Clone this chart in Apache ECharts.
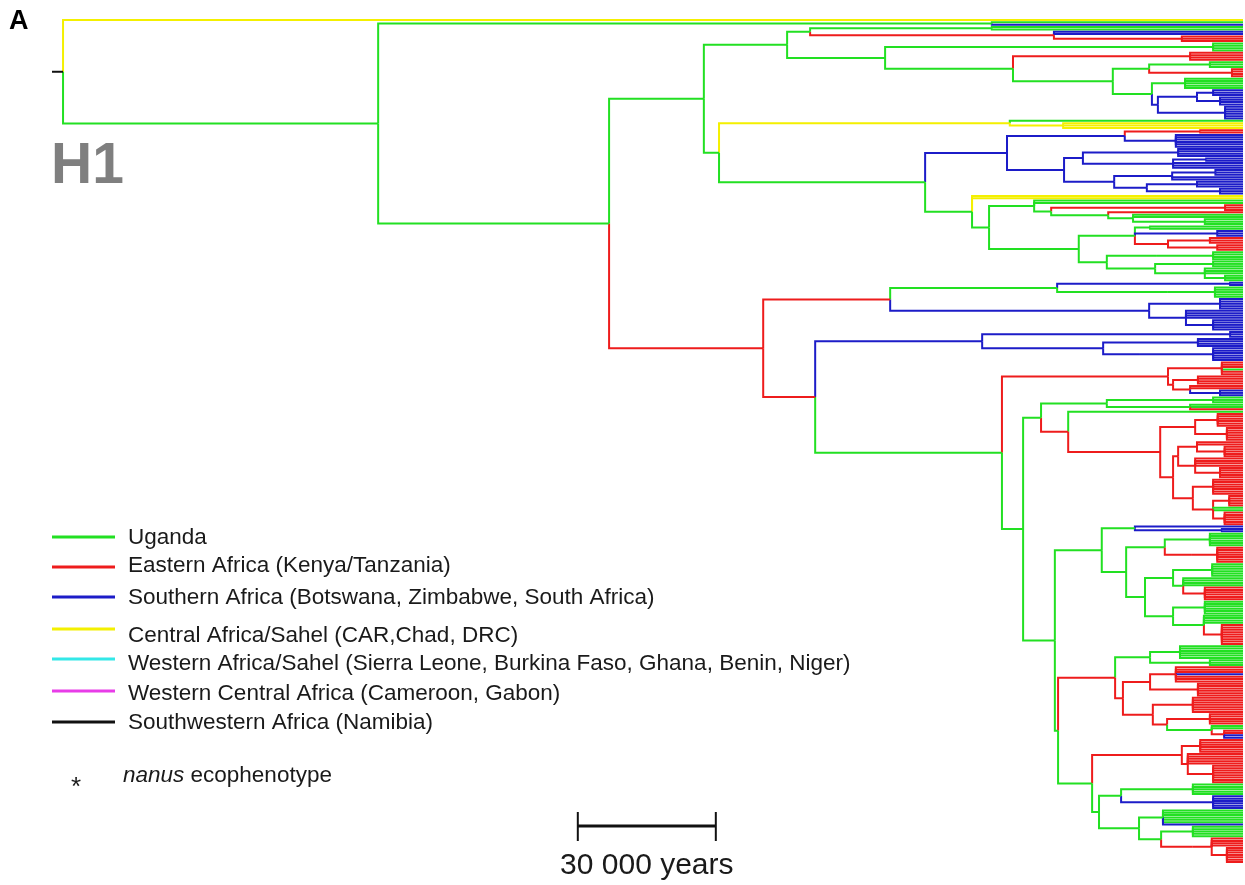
<!DOCTYPE html>
<html><head><meta charset="utf-8">
<script src="https://cdn.jsdelivr.net/npm/echarts@6.0.0/dist/echarts.min.js"></script>
<style>html,body{margin:0;padding:0;background:#fff}#c{width:1245px;height:885px}</style>
</head><body><div id="c"></div>
<script>
// ---------- region legend ----------
const regionCodes = ['g', 'r', 'b', 'y', 'c', 'm', 'k'];
const regionNames = [
  'Uganda',
  'Eastern Africa (Kenya/Tanzania)',
  'Southern Africa (Botswana, Zimbabwe, South Africa)',
  'Central Africa/Sahel (CAR,Chad, DRC)',
  'Western Africa/Sahel (Sierra Leone, Burkina Faso, Ghana, Benin, Niger)',
  'Western Central Africa (Cameroon, Gabon)',
  'Southwestern Africa (Namibia)'
];
const regionColors = ['#22e022', '#ee1c1c', '#1c1cc8', '#f4f000', '#33e8e8', '#e83ce8', '#111111'];

// ---------- time scale (kyr before present) ----------
const rootAge = 256.5;
const rootStubKyr = 2.4;
const scaleBarKyr = 30;
const scaleBarStartAge = 144.6;
const scaleBarLabel = '30 000 years';

// ---------- tree: [node age (kyr), colour of branch into node, ...children]; 'g4' = 4 tips of that colour ----------
const outgroupTip = 'y1';
const cladeB1 = [54.6, 'g', 'g1', 'b1'];
const clade810 = [94.1, 'g', [54.6, 'g', 'g2'], [41.1, 'r', 'b2', [13.3, 'r', 'r3']]];
const clade885 = [77.8, 'g', [6.5, 'g', 'g4'],
  [50.0, 'g', [11.5, 'r', 'r4'],
    [28.3, 'g',
      [20.4, 'g', [7.2, 'g', 'g3'], [2.4, 'r', 'r4']],
      [19.8, 'g', [12.6, 'g', 'g5'], [18.5, 'b', [10.0, 'b', [6.5, 'b', 'b3'], [5.0, 'b', 'b4']], [3.9, 'b', 'b6']]]]]];
const cladeD1 = [99.1, 'g', clade810, clade885];
const clade1007 = [51.3, 'b',
  [25.7, 'b', [9.3, 'r', 'r2'], [14.6, 'b', 'b6']],
  [38.9, 'b',
    [34.8, 'b', [14.1, 'b', 'b4'], [15.2, 'b', [8.0, 'b', 'b2'], 'b3']],
    [28.0, 'b', [15.4, 'b', [6.0, 'b', 'b3'], 'b2'], [20.9, 'b', [10.0, 'b', 'b3'], [5.0, 'b', 'b3']]]]];
const clade989 = [55.2, 'g',
  [45.4, 'g', 'g2', [41.7, 'g', [3.9, 'r', 'r3'], [29.3, 'g', 'r1', [23.9, 'g', 'g2', [8.3, 'g', 'g3']]]]],
  [35.7, 'g',
    [23.5, 'g', [20.2, 'g', 'g2'], [5.6, 'b', 'b3'], [16.3, 'r', [7.2, 'r', 'r3'], [5.6, 'r', 'r3']]],
    [29.6, 'g', [18.9, 'g', [6.5, 'g', 'g4']], [19.1, 'g', [6.5, 'g', 'g3'], [8.3, 'g', 'g3', [3.9, 'g', 'g3']]]]]];
const clade719 = [113.9, 'g',
  [50.7, 'y', 'g1', [39.1, 'y', 'y3']],
  [69.1, 'g', clade1007, [58.9, 'g', 'y2', clade989]]];
const cladeF = [76.7, 'r',
  [40.4, 'g', [2.8, 'b', 'b2'], [16.5, 'g', [6.1, 'g', 'g5']]],
  [20.4, 'b', [5.0, 'b', 'b5'], [12.4, 'b', 'b4', [6.5, 'b', 'b5']]]];
const clade982 = [56.7, 'b', [2.8, 'b', 'b3'], [30.4, 'b', [9.8, 'b', 'b4'], [22.6, 'b', [6.5, 'b', 'b6']]]];
const clade1168 = [16.3, 'r', [4.6, 'r', 'r3', 'g1', 'r2'], [15.2, 'r', [9.8, 'r', 'r4'], [11.5, 'r', 'r2', [5.0, 'b', 'b3']]]];
const clade1042 = [43.9, 'g',
  [29.6, 'g', [6.5, 'g', 'g3'], [11.5, 'g', 'g2', 'r1']],
  [38.0, 'r', 'g1',
    [18.0, 'r',
      [10.4, 'r', [5.5, 'r', 'r6'], [3.5, 'r', 'r6']],
      [15.2, 'r',
        [14.1, 'r', [10.0, 'r', 'r2', [4.0, 'r', 'r5']], [10.4, 'r', 'r4', [5.0, 'r', 'r5']]],
        [10.9, 'r', [6.5, 'r', 'r7'], [6.5, 'r', [3.0, 'r', 'r5'], 'g2', [4.0, 'r', 'r6']]]]]]];
const cladeM = [25.4, 'g',
  [17.0, 'g', [7.2, 'g', 'g6'], [11.1, 'r', [5.6, 'r', 'r7']]],
  [21.3, 'g',
    [15.2, 'g', [6.7, 'g', 'g6'], [13.0, 'g', 'g4', [8.3, 'r', 'r6']]],
    [15.2, 'g', [8.3, 'g', 'g6'], [8.5, 'g', 'g4', [4.6, 'r', 'r9']]]]];
const cladeL = [30.7, 'g', [23.5, 'g', 'b1', [4.6, 'b', 'b2']], cladeM];
const cladeN = [27.8, 'r',
  [20.2, 'g', [13.7, 'g', 'g6'], [7.2, 'g', 'g3']],
  [26.1, 'r',
    [20.2, 'r', [14.6, 'r', 'r3', 'b1', 'r3'], [9.8, 'r', 'r6']],
    [19.6, 'r', [10.9, 'r', 'r7'], [16.5, 'r', [7.2, 'r', 'r5'], [6.8, 'g', 'g2', [4.1, 'r', 'r2', 'b2']]]]]];
const cladeP = [31.3, 'g',
  [26.5, 'g', [10.9, 'g', 'g5'], [6.5, 'b', 'b6']],
  [22.6, 'g', [17.4, 'g', 'g6', 'b1'], [17.8, 'g', [10.9, 'g', 'g5'], [10.9, 'r', [6.8, 'r', 'r4', [3.5, 'r', 'r7']]]]]];
const cladeO = [32.8, 'g', [13.3, 'r', [9.3, 'r', 'r6'], [12.0, 'r', 'r5', [6.5, 'r', 'r8']]], cladeP];
const cladeK = [40.2, 'g', cladeN, cladeO];
const cladeJ = [40.9, 'g', cladeL, cladeK];
const cladeI = [47.8, 'g', clade1042, cladeJ];
const cladeH = [52.4, 'g', clade1168, cladeI];
const cladeG = [93.0, 'r', clade982, cladeH];
const cladeE = [104.3, 'r', cladeF, cladeG];
const cladeD = [117.2, 'g', cladeD1, clade719];
const cladeC = [137.8, 'g', cladeD, cladeE];
const cladeB = [188.0, 'g', cladeB1, cladeC];
const tree = [rootAge, 'k', outgroupTip, cladeB];

// ---------- layout (tips evenly spaced, node at middle of its outer children) ----------
let leafCount = 0;
const branches = [];
function visit(node) {
  const age = node[0];
  const kids = [];
  for (let i = 2; i < node.length; i++) {
    const c = node[i];
    if (typeof c === 'string') {
      const n = c.length > 1 ? parseInt(c.slice(1), 10) : 1;
      for (let j = 0; j < n; j++) kids.push({ age: 0, y: leafCount++, col: c[0] });
    } else {
      const y = visit(c);
      kids.push({ age: c[0], y: y, col: c[1] });
    }
  }
  const y = (kids[0].y + kids[kids.length - 1].y) / 2;
  kids.forEach(k => branches.push([age, k.age, y, k.y, regionCodes.indexOf(k.col)]));
  return y;
}
const rootY = visit(tree);
branches.push([rootAge + rootStubKyr, rootAge, rootY, rootY, 6]);

const chart = echarts.init(document.getElementById('c'), null, { renderer: 'canvas' });
const FONT = '"Liberation Sans", Arial, sans-serif';
chart.setOption({
  animation: false,
  backgroundColor: '#ffffff',
  grid: { left: 52, right: 2, top: 20, bottom: 23 },
  xAxis: { type: 'value', inverse: true, min: 0, max: rootAge + rootStubKyr, show: false },
  yAxis: { type: 'value', inverse: true, min: 0, max: leafCount - 1, show: false },
  series: [{
    type: 'custom',
    silent: true,
    clip: false,
    encode: { x: [0, 1], y: [2, 3] },
    data: branches,
    renderItem: function (params, api) {
      const pa = api.value(0), ca = api.value(1), py = api.value(2), cy = api.value(3), ci = api.value(4);
      const p1 = api.coord([pa, py]), p2 = api.coord([pa, cy]), p3 = api.coord([ca, cy]);
      return {
        type: 'polyline',
        shape: { points: [p1, p2, p3] },
        style: { stroke: regionColors[ci], lineWidth: 2, fill: null }
      };
    }
  }]
});

// ---------- annotations ----------
const xs0 = chart.convertToPixel({ xAxisIndex: 0 }, scaleBarStartAge);
const xs1 = chart.convertToPixel({ xAxisIndex: 0 }, scaleBarStartAge - scaleBarKyr);
const legendLineY = [537, 567, 597, 629, 659, 691, 722];
const legendTextY = [538, 566, 598, 636, 664, 694, 723];
const g = [];
g.push({ type: 'text', style: { text: 'A', x: 9, y: 22, font: 'bold 27px ' + FONT, fill: '#000', textVerticalAlign: 'middle' } });
g.push({ type: 'text', style: { text: 'H1', x: 51, y: 167, font: 'bold 57px ' + FONT, fill: '#7f7f7f', textVerticalAlign: 'middle' } });
regionNames.forEach((name, i) => {
  g.push({ type: 'line', shape: { x1: 52, y1: legendLineY[i], x2: 115, y2: legendLineY[i] }, style: { stroke: regionColors[i], lineWidth: 3 } });
  g.push({ type: 'text', style: { text: name, x: 128, y: legendTextY[i], font: '22.5px ' + FONT, fill: '#1a1a1a', textVerticalAlign: 'middle' } });
});
g.push({ type: 'text', style: { text: '*', x: 71, y: 788, font: '26px ' + FONT, fill: '#1a1a1a', textVerticalAlign: 'middle' } });
g.push({ type: 'text', style: { text: '{i|nanus} ecophenotype', x: 123, y: 776, font: '22.5px ' + FONT, fill: '#1a1a1a', textVerticalAlign: 'middle',
  rich: { i: { fontStyle: 'italic', fontSize: 22.5, fontFamily: '"Liberation Sans", Arial, sans-serif', fill: '#1a1a1a' } } } });
g.push({ type: 'line', shape: { x1: xs0, y1: 826, x2: xs1, y2: 826 }, style: { stroke: '#111', lineWidth: 3 } });
g.push({ type: 'line', shape: { x1: xs0, y1: 812, x2: xs0, y2: 841 }, style: { stroke: '#111', lineWidth: 2 } });
g.push({ type: 'line', shape: { x1: xs1, y1: 812, x2: xs1, y2: 841 }, style: { stroke: '#111', lineWidth: 2 } });
g.push({ type: 'text', style: { text: scaleBarLabel, x: (xs0 + xs1) / 2, y: 866, font: '30px ' + FONT, fill: '#1a1a1a', textAlign: 'center', textVerticalAlign: 'middle' } });
chart.setOption({ graphic: g });
</script>
</body></html>
